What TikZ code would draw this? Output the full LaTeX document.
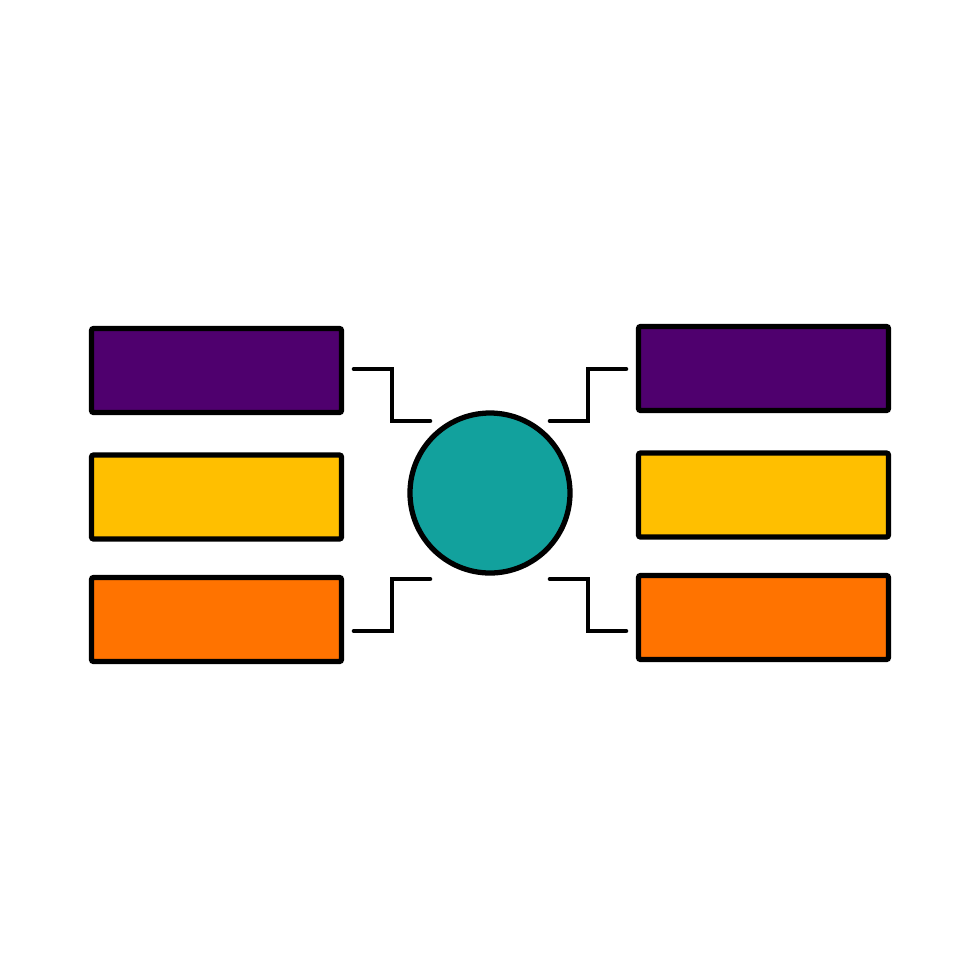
\documentclass[tikz,border=0pt]{standalone}
\usepackage{tikz}
\usetikzlibrary{calc}
\definecolor{barpurple}{HTML}{4F006E}
\definecolor{baryellow}{HTML}{FFBF00}
\definecolor{barorange}{HTML}{FF7300}
\definecolor{hubteal}{HTML}{12A19D}
\tikzset{
	bar/.style={draw=black, line width=1.5pt, rounded corners=0.6pt, minimum width=2.50cm, minimum height=0.84cm, inner sep=0pt},
	hub/.style={draw=black, line width=1.5pt, circle, fill=hubteal, minimum size=1.60cm, inner sep=0pt},
	link/.style={draw=black, line width=1.3pt, line cap=round, line join=miter}
}
\begin{document}
\begin{tikzpicture}
		%%%%% START %%%%%
		\useasboundingbox (0, 0) rectangle (9.8, -9.8);
		
		\node[hub] (core) at (4.90, -4.93) {};
		
		\node[bar, fill=barpurple] (leftA) at (2.165, -3.705) {};
		\node[bar, fill=baryellow] (leftB) at (2.165, -4.97) {};
		\node[bar, fill=barorange] (leftC) at (2.165, -6.195) {};
		
		\node[bar, fill=barpurple] (rightA) at (7.635, -3.685) {};
		\node[bar, fill=baryellow] (rightB) at (7.635, -4.95) {};
		\node[bar, fill=barorange] (rightC) at (7.635, -6.175) {};
		
		\coordinate (tlA) at (3.54, -3.69);
		\coordinate (tlB) at (4.30, -4.21);
		\coordinate (trA) at (6.26, -3.69);
		\coordinate (trB) at (5.50, -4.21);
		\coordinate (blA) at (3.54, -6.31);
		\coordinate (blB) at (4.30, -5.79);
		\coordinate (brA) at (6.26, -6.31);
		\coordinate (brB) at (5.50, -5.79);
		
		\draw[link] (tlA) -| ($(tlA)!0.5!(tlB)$) |- (tlB);
		\draw[link] (trA) -| ($(trA)!0.5!(trB)$) |- (trB);
		\draw[link] (blA) -| ($(blA)!0.5!(blB)$) |- (blB);
		\draw[link] (brA) -| ($(brA)!0.5!(brB)$) |- (brB);
		
		%%%%% END %%%%%
	\end{tikzpicture}
\end{document}
